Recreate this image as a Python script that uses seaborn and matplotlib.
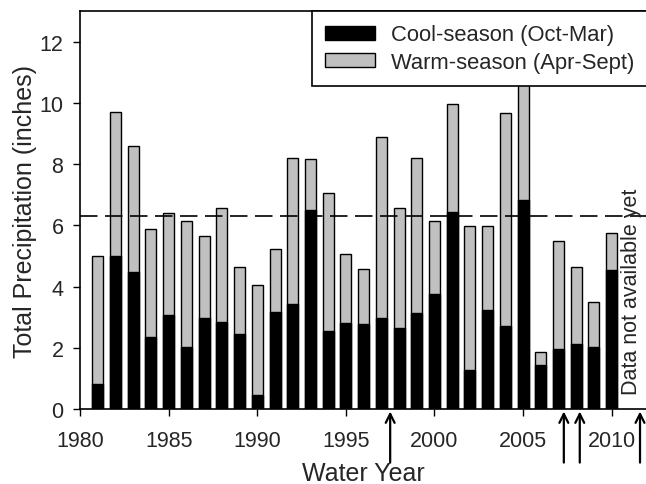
import matplotlib
matplotlib.use("Agg")
import matplotlib.pyplot as plt
import matplotlib.patches as mpatches
import seaborn as sns
import pandas as pd

# water years and seasonal precipitation (inches)
years = list(range(1981, 2011))
cool = [0.82, 5.01, 4.49, 2.36, 3.07, 2.01, 2.97, 2.83, 2.46, 0.46,
        3.16, 3.42, 6.51, 2.54, 2.81, 2.78, 2.99, 2.64, 3.14, 3.76,
        6.45, 1.28, 3.25, 2.70, 6.84, 1.45, 1.96, 2.11, 2.04, 4.55]
total = [4.99, 9.69, 8.58, 5.88, 6.42, 6.13, 5.64, 6.57, 4.63, 4.06,
         5.22, 8.21, 8.16, 7.05, 5.06, 4.57, 8.89, 6.56, 8.19, 6.13,
         9.96, 5.99, 5.99, 9.67, 11.4, 1.87, 5.48, 4.65, 3.51, 5.75]
mean_total = 6.32
arrow_years = [1997.5, 2007.3, 2008.2, 2011.6]
note_text = "Data not available yet"

df = pd.DataFrame({"year": years, "cool": cool, "total": total})

sns.set_style("ticks")
plt.rcParams["font.family"] = ["Liberation Sans", "DejaVu Sans"]

fig = plt.figure(figsize=(6.46, 4.85), dpi=100)
# right edge runs just past the figure, like the cropped original
ax = fig.add_axes([0.124, 0.1546, 0.8777, 0.8204])

# warm season is drawn as the full bar, cool season on top of it from zero
sns.barplot(data=df, x="year", y="total", native_scale=True, color="#c0c0c0",
            saturation=1, edgecolor="black", linewidth=1, width=0.62,
            errorbar=None, ax=ax)
sns.barplot(data=df, x="year", y="cool", native_scale=True, color="black",
            saturation=1, edgecolor="black", linewidth=1, width=0.62,
            errorbar=None, ax=ax)

ax.axhline(mean_total, color="black", lw=1.2, ls=(0, (10.5, 4.5)), zorder=1)

ax.set_xlim(1980, 2012.0)
ax.set_ylim(0, 13)
ax.set_xticks(range(1980, 2011, 5))
ax.set_yticks(range(0, 13, 2))
ax.tick_params(direction="out", length=5, width=1, labelsize=15.5, color="black")
ax.tick_params(axis="x", pad=10)
ax.tick_params(axis="y", pad=7)
for s in ax.spines.values():
    s.set_color("black")
    s.set_linewidth(1.2)

ax.set_xlabel("Water Year", fontsize=18, labelpad=7)
ax.set_ylabel("Total Precipitation (inches)", fontsize=18, labelpad=2)

for yr in arrow_years:
    ax.annotate("", xy=(yr, -0.08), xytext=(yr, -1.75), xycoords="data",
                arrowprops=dict(arrowstyle="->", lw=1.6, color="black",
                                mutation_scale=16, shrinkA=0, shrinkB=0),
                annotation_clip=False)

ax.text(2011.12, 0.5, note_text, rotation=90, ha="center", va="bottom",
        fontsize=15.5)

handles = [mpatches.Patch(facecolor="black", edgecolor="black", label="Cool-season (Oct-Mar)"),
           mpatches.Patch(facecolor="#c0c0c0", edgecolor="black", label="Warm-season (Apr-Sept)")]
leg = ax.legend(handles=handles, loc="upper right", fontsize=15.8, frameon=True,
                fancybox=False, framealpha=1, edgecolor="black", borderaxespad=0,
                handlelength=2.3, handleheight=0.6, labelspacing=0.3,
                borderpad=0.6, handletextpad=0.7)
leg.get_frame().set_linewidth(1.2)
leg.set_zorder(5)

fig.savefig("out.png", dpi=100)
plt.close(fig)
